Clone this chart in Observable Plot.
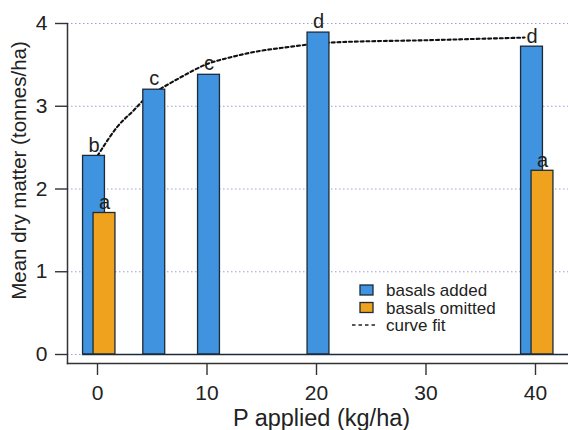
<!DOCTYPE html>
<html>
<head>
<meta charset="utf-8">
<script src="https://cdn.jsdelivr.net/npm/d3@7"></script>
<script src="https://cdn.jsdelivr.net/npm/@observablehq/plot@0.6"></script>
<style>
  html, body { margin: 0; padding: 0; background: #ffffff; }
  #chart { width: 568px; height: 430px; }
</style>
</head>
<body>
<div id="chart"></div>
<script>
// ---- data ----
const pAdded = [0, 5, 10, 20, 40];
const dmAdded = [2.40, 3.20, 3.38, 3.89, 3.72];
const lettersAdded = ["b", "c", "c", "d", "d"];

const pOmitted = [0, 40];
const dmOmitted = [1.71, 2.22];
const lettersOmitted = ["a", "a"];

const curveP  = [0, 0.43, 1.8, 3.3, 4.5, 5.75, 7.6, 10, 12.1, 14.9, 17.1, 21.3, 30.7, 39];
const curveDM = [2.40, 2.49, 2.75, 2.95, 3.11, 3.21, 3.35, 3.51, 3.59, 3.67, 3.71, 3.77, 3.80, 3.83];

const xTicks = [0, 10, 20, 30, 40];
const yTicks = [0, 1, 2, 3, 4];

const legendLabels = ["basals added", "basals omitted", "curve fit"];

const xLabel = "P applied (kg/ha)";
const yLabel = "Mean dry matter (tonnes/ha)";

// ---- tables ----
const added = pAdded.map((p, i) => ({p, dm: dmAdded[i], letter: lettersAdded[i], paired: pOmitted.includes(p)}));
const omitted = pOmitted.map((p, i) => ({p, dm: dmOmitted[i], letter: lettersOmitted[i]}));
const curve = curveP.map((p, i) => ({p, dm: curveDM[i]}));

const BLUE = "#3f93df";
const ORANGE = "#efa21d";
const EDGE = "#1d2a38";
const INK = "#222222";
const FONT = "Liberation Sans, Arial, Helvetica, sans-serif";
const halfW = 1.0; // bar half-width in kg/ha

function legendMark(index, scales, values, dims) {
  const g = d3.create("svg:g")
    .attr("font-family", FONT)
    .attr("font-size", 17)
    .attr("text-anchor", "start")
    .attr("fill", INK);
  const fills = [BLUE, ORANGE];
  legendLabels.forEach((lab, i) => {
    const cy = 290 + i * 17.5;
    if (i < 2) {
      g.append("rect").attr("x", 360).attr("y", cy - 5).attr("width", 13).attr("height", 10)
        .attr("fill", fills[i]).attr("stroke", EDGE).attr("stroke-width", 1.3);
    } else {
      g.append("line").attr("x1", 352).attr("x2", 375).attr("y1", cy).attr("y2", cy)
        .attr("stroke", INK).attr("stroke-width", 1.5).attr("stroke-dasharray", "3.5,3");
    }
    g.append("text").attr("x", 386).attr("y", cy + 6)
      .attr("text-anchor", "start").attr("font-size", 17).text(lab);
  });
  return g.node();
}

const chart = Plot.plot({
  width: 568,
  height: 430,
  marginLeft: 67,
  marginRight: 0,
  marginTop: 23,
  marginBottom: 67,
  style: {fontFamily: FONT, color: INK, background: "#ffffff"},
  x: {domain: [0, 40], range: [97, 535]},
  y: {domain: [0, 4], range: [354, 23]},
  marks: [
    // dotted gridlines
    Plot.ruleY(yTicks, {stroke: "#8f98d4", strokeWidth: 1, strokeDasharray: "1.5,2.5", strokeOpacity: 0.9}),
    // curve fit
    Plot.line(curve, {x: "p", y: "dm", curve: "monotone-x", stroke: "#111", strokeWidth: 2.1, strokeDasharray: "3,2.8"}),
    // basals added bars
    Plot.rect(added.filter(d => d.paired), {x1: d => d.p - halfW, x2: d => d.p + halfW, y1: 0, y2: "dm", dx: -3.5, fill: BLUE, stroke: EDGE, strokeWidth: 1.3}),
    Plot.rect(added.filter(d => !d.paired), {x1: d => d.p - halfW, x2: d => d.p + halfW, y1: 0, y2: "dm", dx: 2, fill: BLUE, stroke: EDGE, strokeWidth: 1.3}),
    // basals omitted bars
    Plot.rect(omitted, {x1: d => d.p - halfW, x2: d => d.p + halfW, y1: 0, y2: "dm", dx: 7, fill: ORANGE, stroke: EDGE, strokeWidth: 1.3}),
    // baseline
    Plot.ruleY([0], {x1: d3.min(pAdded) - halfW - 0.35, x2: 43.1, stroke: EDGE, strokeWidth: 1.3}),
    // letters
    Plot.text(added.filter(d => d.paired), {x: "p", y: "dm", text: "letter", dx: -3.5, dy: -4, lineAnchor: "bottom", fontSize: 20, fill: INK}),
    Plot.text(added.filter(d => !d.paired), {x: "p", y: "dm", text: "letter", dx: 2, dy: -5, lineAnchor: "bottom", fontSize: 20, fill: INK}),
    Plot.text(omitted, {x: "p", y: "dm", text: "letter", dx: 7, dy: -4, lineAnchor: "bottom", fontSize: 20, fill: INK}),
    // axes
    Plot.axisY({ticks: yTicks, tickFormat: "d", tickSize: 12, tickPadding: 8, fontSize: 21, label: null, stroke: "#333", strokeWidth: 1.4}),
    Plot.axisX({ticks: xTicks, tickFormat: "d", tickSize: 12, tickPadding: 10, fontSize: 21, label: null, stroke: "#333", strokeWidth: 1.4}),
    Plot.frame({anchor: "left", stroke: "#333", strokeWidth: 1.5}),
    Plot.frame({anchor: "bottom", stroke: "#333", strokeWidth: 1.5}),
    // axis titles
    Plot.text([xLabel], {frameAnchor: "bottom", textAnchor: "middle", lineAnchor: "bottom", dx: 3.5, dy: 62, fontSize: 23.5, fill: INK}),
    Plot.text([yLabel], {frameAnchor: "left", textAnchor: "middle", rotate: -90, lineAnchor: "middle", dx: -48, dy: -23, fontSize: 20.5, fill: INK}),
    // legend
    legendMark
  ]
});

document.getElementById("chart").appendChild(chart);
</script>
</body>
</html>
